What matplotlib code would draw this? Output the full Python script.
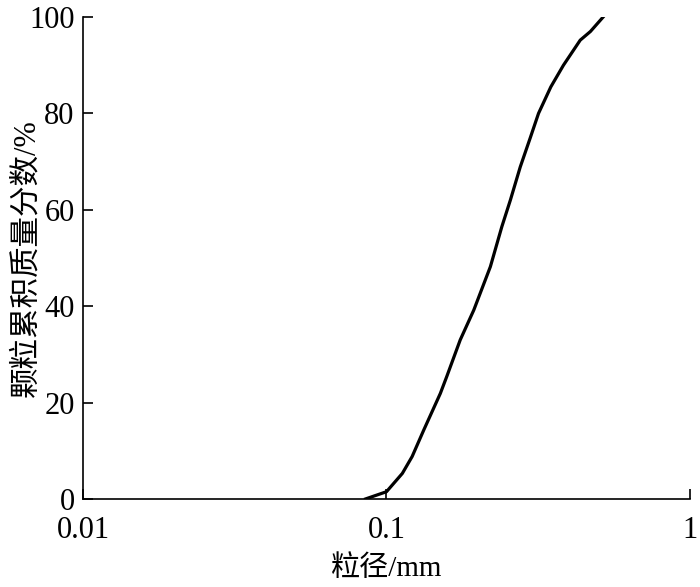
import matplotlib
matplotlib.use("Agg")
import matplotlib.pyplot as plt
from matplotlib.ticker import FixedLocator, FixedFormatter, NullLocator

particle_size = [0.0853, 0.1, 0.1128, 0.1215, 0.1327, 0.1505, 0.158, 0.175, 0.194,
                 0.220, 0.240, 0.256, 0.276, 0.298, 0.317, 0.348, 0.383, 0.435, 0.47, 0.521]
cum_fraction = [0, 1.5, 5.3, 8.8, 14.3, 21.9, 25.4, 33.0, 39.2,
                48.2, 56.5, 62.0, 68.9, 75.0, 80.0, 85.5, 90.0, 95.2, 97.0, 100.2]
x_ticks = [0.01, 0.1, 1]
x_tick_labels = ["0.01", "0.1", "1"]
y_ticks = [0, 20, 40, 60, 80, 100]
y_tick_labels = ["0", "20", "40", "60", "80", "100"]

num_font = "Liberation Serif"
mixed = ["Liberation Serif", "Noto Sans CJK SC"]

fig = plt.figure(figsize=(7.0, 5.87), dpi=100)
ax = fig.add_axes([0.1186, 0.15, 0.867, 0.821])
ax.plot(particle_size, cum_fraction, color="black", lw=2.3)
ax.set_xscale("log")
ax.set_xlim(0.01, 1)
ax.set_ylim(0, 100)
ax.xaxis.set_major_locator(FixedLocator(x_ticks))
ax.xaxis.set_major_formatter(FixedFormatter(x_tick_labels))
ax.xaxis.set_minor_locator(NullLocator())
ax.set_yticks(y_ticks)
ax.set_yticklabels(y_tick_labels)
for s in ["top", "right"]:
    ax.spines[s].set_visible(False)
for s in ["left", "bottom"]:
    ax.spines[s].set_linewidth(1.2)
ax.tick_params(direction="in", length=7, width=1.2, labelsize=22)
ax.tick_params(axis="x", pad=12)
ax.tick_params(axis="y", pad=6)
for lab in ax.get_xticklabels() + ax.get_yticklabels():
    lab.set_fontfamily(num_font)
ax.set_xlabel("粒径/mm", fontsize=21, family=mixed)
ax.set_ylabel("颗粒累积质量分数/%", fontsize=22, family=mixed)
ax.xaxis.set_label_coords(0.5, -0.117)
ax.yaxis.set_label_coords(-0.068, 0.5)
fig.savefig("out.png", dpi=100)
